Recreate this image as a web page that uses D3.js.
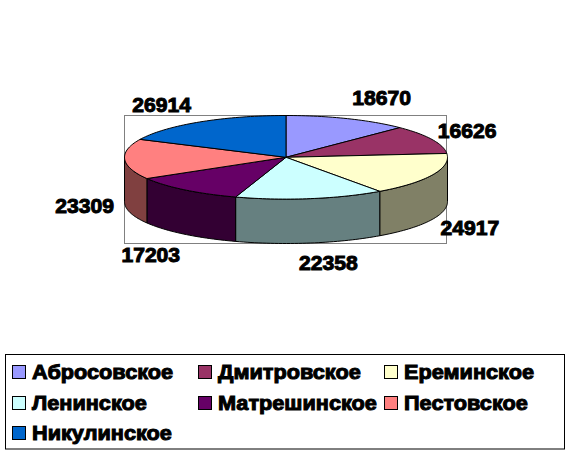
<!DOCTYPE html>
<html><head><meta charset="utf-8">
<script src="https://cdn.jsdelivr.net/npm/d3@7"></script>
<style>html,body{margin:0;background:#fff}svg{display:block}
text{font-family:"Liberation Sans",Arial,sans-serif;font-weight:bold;fill:#000;stroke:#000;stroke-width:1px;paint-order:stroke}</style>
</head><body><div id="c"></div>
<script>
const categories = ["Абросовское","Дмитровское","Ереминское","Ленинское","Матрешинское","Пестовское","Никулинское"];
const values = [18670,16626,24917,22358,17203,23309,26914];
const topColors = ["#9999FF","#993366","#FFFFCC","#CCFFFF","#660066","#FF8080","#0066CC"];
const labelDx = [34,35,37,18,-34,-40,-38];
const labelDy = [-21,-9,53,63.5,65,46,-17.5];

const W=571,H=458;
const cx=286,cy=157.3,rx=161.5,ry=41.8,depth=44.4;
const svg=d3.select("#c").append("svg").attr("width",W).attr("height",H);
svg.append("rect").attr("width",W).attr("height",H).attr("fill","#fff");
svg.append("rect").attr("x",cx-rx).attr("y",cy-ry).attr("width",2*rx-1).attr("height",2*ry+depth)
  .attr("fill","none").attr("stroke","#808080");

const arcs=d3.pie().sort(null).value(d=>d)(values);
const px=a=>cx+rx*Math.sin(a), py=(a,z=0)=>cy-ry*Math.cos(a)+z;
const sample=(a0,a1)=>{const n=Math.max(2,Math.ceil((a1-a0)*40));return d3.range(n+1).map(i=>a0+(a1-a0)*i/n);};
const line=d3.line();
const dark=c=>{const r=d3.rgb(c);return d3.rgb(r.r/2,r.g/2,r.b/2).formatHex();};
const wallLo=Math.PI/2, wallHi=3*Math.PI/2;

// widen text to match the reference's heavy, wide face
const stretch=(sel,k)=>sel.each(function(){this.setAttribute("textLength",this.getComputedTextLength()*k);this.setAttribute("lengthAdjust","spacingAndGlyphs");});

// side walls
arcs.forEach((d,i)=>{
  const a0=Math.max(d.startAngle,wallLo),a1=Math.min(d.endAngle,wallHi);
  if(a1<=a0)return;
  const s=sample(a0,a1);
  const pts=[...s.map(a=>[px(a),py(a)]),...s.slice().reverse().map(a=>[px(a),py(a,depth)])];
  svg.append("path").attr("d",line(pts)+"Z").attr("fill",dark(topColors[i]))
    .attr("stroke","#000").attr("stroke-width",1);
});
// top slices
arcs.forEach((d,i)=>{
  const pts=[[cx,cy],...sample(d.startAngle,d.endAngle).map(a=>[px(a),py(a)])];
  svg.append("path").attr("d",line(pts)+"Z").attr("fill",topColors[i])
    .attr("stroke","#000").attr("stroke-width",1);
});
// labels
arcs.forEach((d,i)=>{
  const m=(d.startAngle+d.endAngle)/2;
  svg.append("text").attr("x",px(m)+labelDx[i]).attr("y",py(m)+labelDy[i])
    .attr("text-anchor","middle").attr("dominant-baseline","central")
    .attr("font-size",20.5).text(values[i]).call(stretch,1.03);
});
// legend
svg.append("rect").attr("x",5.5).attr("y",354.5).attr("width",559).attr("height",94.5)
  .attr("fill","#fff").attr("stroke","#000");
const colX=d3.scalePoint().domain([0,1,2]).range([12.5,384.5]);
const rowY=d3.scalePoint().domain([0,1,2]).range([372,433]);
categories.forEach((c,i)=>{
  const x=colX(i%3),y=rowY(Math.floor(i/3));
  svg.append("rect").attr("x",x).attr("y",Math.floor(y-6.5)+.5).attr("width",13).attr("height",13)
    .attr("fill",topColors[i]).attr("stroke","#000");
  svg.append("text").attr("x",x+19.5).attr("y",y).attr("dominant-baseline","central")
    .attr("font-size",20).text(c).call(stretch,1.085);
});
</script></body></html>
